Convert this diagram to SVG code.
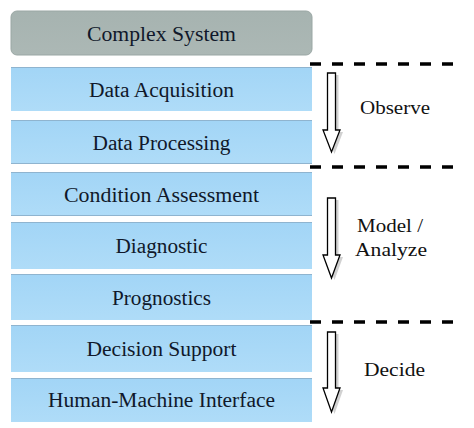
<svg xmlns="http://www.w3.org/2000/svg" width="474" height="428" viewBox="0 0 474 428">
<defs>
<linearGradient id="blue" x1="0" y1="0" x2="0" y2="1">
<stop offset="0" stop-color="#a2d5f6"/>
<stop offset="1" stop-color="#afdcf8"/>
</linearGradient>
<linearGradient id="gray" x1="0" y1="0" x2="0" y2="1">
<stop offset="0" stop-color="#a6b3b0"/>
<stop offset="1" stop-color="#acb8b5"/>
</linearGradient>
</defs>
<style>
.box{fill:url(#blue);}
.edge{stroke:#8fb4cf;stroke-width:1;}
.dash{stroke:#000;stroke-width:3.5;stroke-dasharray:11 11;fill:none;}
.arrow{fill:#fff;stroke:#000;stroke-width:1.3;}
.shade{fill:#9a9a9a;opacity:0.45;}
</style>
<g id="complex-system">
<rect x="11" y="11" width="301" height="44" rx="6" fill="url(#gray)" stroke="#9aa7a4" stroke-width="1"/>
<text x="87" y="41" style="font-family:'Liberation Serif','Times New Roman',serif;font-size:20px;fill:#10182a" textLength="149" lengthAdjust="spacingAndGlyphs">Complex System</text>
</g>
<g id="data-acquisition">
<rect class="box" x="11" y="67" width="301" height="44"/>
<line class="edge" x1="11" y1="67.5" x2="312" y2="67.5"/>
<text x="89" y="97" style="font-family:'Liberation Serif','Times New Roman',serif;font-size:20px;fill:#10182a" textLength="145" lengthAdjust="spacingAndGlyphs">Data Acquisition</text>
</g>
<g id="data-processing">
<rect class="box" x="11" y="120" width="301" height="44"/>
<line class="edge" x1="11" y1="120.5" x2="312" y2="120.5"/>
<line class="edge" x1="11" y1="163.5" x2="312" y2="163.5"/>
<text x="92.5" y="150" style="font-family:'Liberation Serif','Times New Roman',serif;font-size:20px;fill:#10182a" textLength="138" lengthAdjust="spacingAndGlyphs">Data Processing</text>
</g>
<g id="condition-assessment">
<rect class="box" x="11" y="172" width="301" height="44"/>
<line class="edge" x1="11" y1="172.5" x2="312" y2="172.5"/>
<line class="edge" x1="11" y1="215.5" x2="312" y2="215.5"/>
<text x="64" y="202" style="font-family:'Liberation Serif','Times New Roman',serif;font-size:20px;fill:#10182a" textLength="195" lengthAdjust="spacingAndGlyphs">Condition Assessment</text>
</g>
<g id="diagnostic">
<rect class="box" x="11" y="222" width="301" height="47"/>
<line class="edge" x1="11" y1="222.5" x2="312" y2="222.5"/>
<text x="115.5" y="253" style="font-family:'Liberation Serif','Times New Roman',serif;font-size:20px;fill:#10182a" textLength="92" lengthAdjust="spacingAndGlyphs">Diagnostic</text>
</g>
<g id="prognostics">
<rect class="box" x="11" y="274" width="301" height="46"/>
<line class="edge" x1="11" y1="274.5" x2="312" y2="274.5"/>
<text x="112" y="305" style="font-family:'Liberation Serif','Times New Roman',serif;font-size:20px;fill:#10182a" textLength="99" lengthAdjust="spacingAndGlyphs">Prognostics</text>
</g>
<g id="decision-support">
<rect class="box" x="11" y="325" width="301" height="47"/>
<line class="edge" x1="11" y1="325.5" x2="312" y2="325.5"/>
<text x="86.5" y="356" style="font-family:'Liberation Serif','Times New Roman',serif;font-size:20px;fill:#10182a" textLength="150" lengthAdjust="spacingAndGlyphs">Decision Support</text>
</g>
<g id="human-machine-interface">
<rect class="box" x="11" y="378" width="301" height="44"/>
<line class="edge" x1="11" y1="378.5" x2="312" y2="378.5"/>
<text x="48" y="407" style="font-family:'Liberation Serif','Times New Roman',serif;font-size:20px;fill:#10182a" textLength="227" lengthAdjust="spacingAndGlyphs">Human-Machine Interface</text>
</g>
<g id="connectors">
<line class="dash" x1="310" y1="64" x2="454" y2="64"/>
<line class="dash" x1="310" y1="167" x2="454" y2="167"/>
<line class="dash" x1="310" y1="322" x2="454" y2="322"/>
<path class="shade" d="M330.5 75 H338.5 V132 H343 L334.5 154 L326 132 H330.5 Z"/>
<path class="arrow" d="M327.5 73 H335.5 V130 H340 L331.5 152 L323 130 H327.5 Z"/>
<path class="shade" d="M330.5 200 H338.5 V257 H343 L334.5 280 L326 257 H330.5 Z"/>
<path class="arrow" d="M327.5 198 H335.5 V255 H340 L331.5 278 L323 255 H327.5 Z"/>
<path class="shade" d="M330.5 334 H338.5 V390 H343 L334.5 414 L326 390 H330.5 Z"/>
<path class="arrow" d="M327.5 332 H335.5 V388 H340 L331.5 412 L323 388 H327.5 Z"/>
</g>
<g id="phase-labels">
<text x="360" y="114" style="font-family:'Liberation Serif','Times New Roman',serif;font-size:18px;fill:#111" textLength="70" lengthAdjust="spacingAndGlyphs">Observe</text>
<text x="357" y="232" style="font-family:'Liberation Serif','Times New Roman',serif;font-size:18px;fill:#111" textLength="66" lengthAdjust="spacingAndGlyphs">Model /</text>
<text x="355" y="256" style="font-family:'Liberation Serif','Times New Roman',serif;font-size:18px;fill:#111" textLength="72" lengthAdjust="spacingAndGlyphs">Analyze</text>
<text x="364" y="376" style="font-family:'Liberation Serif','Times New Roman',serif;font-size:18px;fill:#111" textLength="61" lengthAdjust="spacingAndGlyphs">Decide</text>
</g>
</svg>
